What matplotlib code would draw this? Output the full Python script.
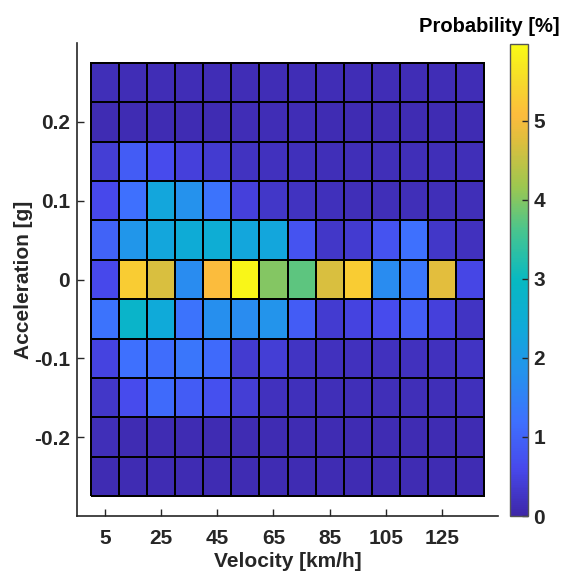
import numpy as np
import matplotlib
matplotlib.use("Agg")
import matplotlib.pyplot as plt
from matplotlib.colors import LinearSegmentedColormap

plt.rcParams['font.family'] = ['Liberation Sans', 'DejaVu Sans']
plt.rcParams['font.weight'] = 'bold'

# Velocity bin centres [km/h] and acceleration bin centres [g]
velocity = [5, 15, 25, 35, 45, 55, 65, 75, 85, 95, 105, 115, 125, 135]
acceleration = [0.25, 0.20, 0.15, 0.10, 0.05, 0.0, -0.05, -0.10, -0.15, -0.20, -0.25]

# Probability [%], rows follow `acceleration` (top to bottom)
row_p025 = [0.15, 0.12, 0.12, 0.12, 0.12, 0.12, 0.12, 0.12, 0.12, 0.12, 0.12, 0.12, 0.12, 0.12]
row_p020 = [0.10, 0.10, 0.10, 0.10, 0.10, 0.12, 0.12, 0.12, 0.10, 0.10, 0.10, 0.10, 0.10, 0.10]
row_p015 = [0.40, 0.90, 0.65, 0.45, 0.35, 0.22, 0.20, 0.18, 0.15, 0.15, 0.15, 0.15, 0.15, 0.15]
row_p010 = [0.60, 1.20, 2.30, 1.80, 1.25, 0.45, 0.30, 0.22, 0.18, 0.15, 0.15, 0.15, 0.15, 0.15]
row_p005 = [1.00, 1.90, 2.30, 2.45, 2.50, 2.30, 2.30, 0.75, 0.30, 0.35, 0.75, 1.20, 0.30, 0.20]
row_000 = [0.60, 5.30, 4.70, 1.70, 5.05, 5.90, 4.00, 3.75, 4.70, 5.30, 1.70, 1.30, 4.80, 0.55]
row_m005 = [1.25, 2.80, 2.40, 1.25, 1.75, 1.70, 1.85, 0.90, 0.35, 0.50, 0.65, 0.90, 0.45, 0.25]
row_m010 = [0.50, 1.20, 1.15, 1.30, 1.10, 0.35, 0.40, 0.25, 0.20, 0.20, 0.20, 0.20, 0.20, 0.25]
row_m015 = [0.30, 0.65, 1.10, 0.90, 0.70, 0.40, 0.20, 0.18, 0.15, 0.15, 0.15, 0.15, 0.15, 0.18]
row_m020 = [0.15, 0.10, 0.10, 0.10, 0.10, 0.10, 0.10, 0.10, 0.10, 0.10, 0.10, 0.10, 0.10, 0.10]
row_m025 = [0.10, 0.10, 0.10, 0.10, 0.10, 0.10, 0.10, 0.10, 0.10, 0.10, 0.10, 0.10, 0.10, 0.10]

x_ticks = [5, 25, 45, 65, 85, 105, 125]
y_ticks = [-0.2, -0.1, 0.0, 0.1, 0.2]
y_ticklabels = ['-0.2', '-0.1', '0', '0.1', '0.2']
cbar_ticks = [0, 1, 2, 3, 4, 5]

Z = np.array([row_p025, row_p020, row_p015, row_p010, row_p005, row_000,
              row_m005, row_m010, row_m015, row_m020, row_m025])

# parula-like colormap
parula_pts = [
    (0.00, (0.2422, 0.1504, 0.6603)),
    (0.10, (0.2788, 0.2868, 0.9248)),
    (0.20, (0.2423, 0.4410, 0.9950)),
    (0.30, (0.1450, 0.5700, 0.9300)),
    (0.40, (0.0600, 0.6650, 0.8500)),
    (0.50, (0.0300, 0.7250, 0.7600)),
    (0.60, (0.2700, 0.7700, 0.5700)),
    (0.70, (0.6200, 0.7800, 0.3100)),
    (0.80, (0.8800, 0.7450, 0.2400)),
    (0.85, (0.9900, 0.7350, 0.2400)),
    (0.92, (0.9650, 0.8500, 0.1700)),
    (1.00, (0.9769, 0.9839, 0.0805)),
]
parula = LinearSegmentedColormap.from_list('parula', parula_pts, N=256)

W, H = 563, 572
fig = plt.figure(figsize=(W / 100, H / 100), dpi=100)
ax_w = (498 - 77) / W
ax = fig.add_axes([77 / W, 1 - 516 / H, ax_w, (516 - 43) / H])

v = np.array(velocity, dtype=float)
a = np.array(acceleration, dtype=float)
dv = v[1] - v[0]
da = abs(a[0] - a[1])
v_edges = np.concatenate([v - dv / 2, [v[-1] + dv / 2]])
a_sorted = a[::-1]
a_edges = np.concatenate([a_sorted - da / 2, [a_sorted[-1] + da / 2]])

vmin, vmax = 0.0, 5.97
mesh = ax.pcolormesh(v_edges, a_edges, Z[::-1], cmap=parula, vmin=vmin, vmax=vmax,
                     edgecolors='black', linewidth=1.1)

ax.set_xlim(-5, 145)
ax.set_ylim(-0.3, 0.3)
ax.set_xticks(x_ticks)
ax.set_yticks(y_ticks)
ax.set_yticklabels(y_ticklabels)
gray = '#262626'
for s in ['top', 'right']:
    ax.spines[s].set_visible(False)
for s in ['left', 'bottom']:
    ax.spines[s].set_color(gray)
    ax.spines[s].set_linewidth(1.2)
ax.tick_params(direction='in', length=5, width=1.0, colors=gray, labelsize=15)
ax.tick_params(axis='x', pad=9)
ax.tick_params(axis='y', pad=5)
for lab in ax.get_xticklabels() + ax.get_yticklabels():
    lab.set_fontweight('bold')
ax.set_xlabel('Velocity [km/h]', fontsize=15, fontweight='bold', color=gray, labelpad=3.5)
ax.set_ylabel('Acceleration [g]', fontsize=15, fontweight='bold', color=gray)
ax.yaxis.set_label_coords((33 - 77) / 421, 0.5)

cax = fig.add_axes([510 / W, 1 - 516 / H, 18 / W, (516 - 44) / H])
cb = fig.colorbar(mesh, cax=cax, ticks=cbar_ticks)
cb.outline.set_edgecolor('#555555')
cb.outline.set_linewidth(1.0)
cax.tick_params(direction='in', length=4, width=1.0, colors=gray, labelsize=15, pad=4)
for lab in cax.get_yticklabels():
    lab.set_fontweight('bold')
fig.text(489 / W, 1 - 27 / H, 'Probability [%]', ha='center', va='center',
         fontsize=14.5, fontweight='bold', color='black')

fig.savefig('out.png', dpi=100)
